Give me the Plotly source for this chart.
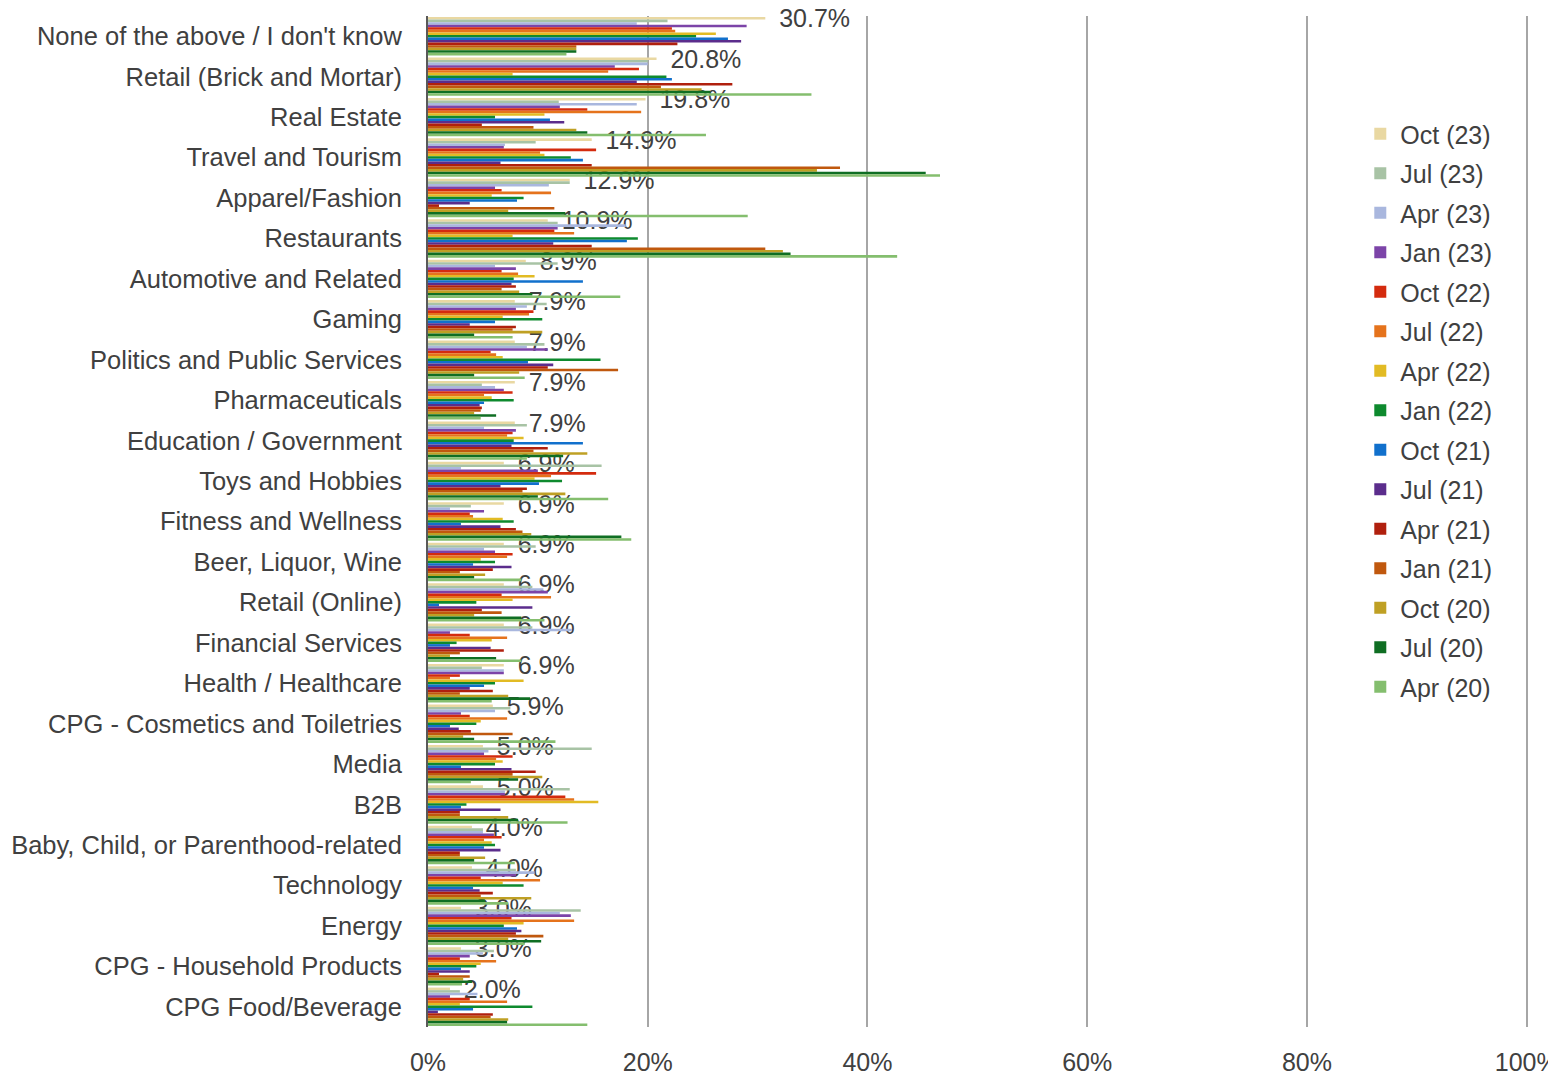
import plotly.graph_objects as go

# Industry categories, top to bottom
categories = [
    "None of the above / I don't know",
    "Retail (Brick and Mortar)",
    "Real Estate",
    "Travel and Tourism",
    "Apparel/Fashion",
    "Restaurants",
    "Automotive and Related",
    "Gaming",
    "Politics and Public Services",
    "Pharmaceuticals",
    "Education / Government",
    "Toys and Hobbies",
    "Fitness and Wellness",
    "Beer, Liquor, Wine",
    "Retail (Online)",
    "Financial Services",
    "Health / Healthcare",
    "CPG - Cosmetics and Toiletries",
    "Media",
    "B2B",
    "Baby, Child, or Parenthood-related",
    "Technology",
    "Energy",
    "CPG - Household Products",
    "CPG Food/Beverage",
]

# Survey waves (percent of respondents), one list per wave, in category order
oct_23 = [30.7, 20.8, 19.8, 14.9, 12.9, 10.9, 8.9, 7.9, 7.9, 7.9, 7.9, 6.9, 6.9,
          6.9, 6.9, 6.9, 6.9, 5.9, 5.0, 5.0, 4.0, 4.0, 3.0, 3.0, 2.0]
jul_23 = [21.8, 20.0, 11.9, 9.8, 12.9, 11.8, 11.8, 10.8, 10.6, 4.9, 9.0, 15.8, 3.9,
          9.8, 9.5, 9.5, 4.9, 7.5, 14.9, 12.9, 5.0, 8.0, 13.9, 6.0, 2.9]
apr_23 = [19.0, 20.0, 19.0, 7.0, 11.0, 18.0, 6.1, 9.0, 9.0, 6.1, 5.1, 3.0, 2.0,
          5.1, 10.5, 13.1, 6.9, 6.1, 5.5, 7.0, 5.0, 9.7, 12.0, 5.0, 4.5]
jan_23 = [29.0, 17.0, 12.0, 6.9, 6.1, 11.8, 8.0, 8.0, 10.9, 6.9, 8.0, 10.0, 5.1,
          6.1, 10.9, 2.0, 6.9, 3.0, 5.1, 7.0, 6.0, 8.0, 13.0, 3.8, 2.0]
oct_22 = [22.2, 19.2, 14.5, 15.3, 6.7, 11.5, 6.7, 9.6, 5.7, 7.7, 7.7, 15.3, 3.8,
          7.7, 6.7, 3.8, 2.9, 3.8, 7.7, 12.5, 6.7, 4.8, 7.6, 2.9, 3.8]
jul_22 = [22.5, 16.4, 19.4, 10.2, 11.2, 13.3, 8.2, 9.2, 6.2, 5.1, 7.2, 11.2, 4.1,
          7.2, 11.2, 7.2, 2.0, 7.2, 6.2, 13.3, 5.1, 10.2, 13.3, 6.2, 7.2]
apr_22 = [26.2, 7.7, 10.6, 10.6, 5.8, 7.7, 9.7, 6.8, 6.8, 5.8, 8.7, 9.7, 6.8,
          4.8, 7.7, 5.8, 8.7, 4.8, 6.8, 15.5, 5.8, 6.8, 8.7, 4.8, 2.9]
jan_22 = [24.4, 21.7, 6.1, 13.0, 8.7, 19.1, 7.8, 10.4, 15.7, 7.8, 7.8, 12.2, 7.8,
          6.1, 4.4, 2.6, 6.1, 4.4, 6.1, 3.5, 6.1, 8.7, 6.9, 4.4, 9.5]
oct_21 = [27.3, 22.2, 11.1, 14.1, 8.1, 18.1, 14.1, 6.1, 9.1, 5.1, 14.1, 10.1, 3.0,
          4.1, 1.0, 2.0, 5.1, 2.0, 3.0, 3.0, 5.1, 4.1, 8.1, 3.0, 4.1]
jul_21 = [28.5, 19.0, 12.4, 6.6, 3.8, 11.4, 7.6, 3.8, 11.4, 4.7, 7.6, 6.6, 6.6,
          7.6, 9.5, 5.7, 3.8, 2.8, 7.6, 6.6, 6.6, 4.7, 8.5, 3.8, 0.9]
apr_21 = [22.7, 27.7, 4.9, 14.9, 1.0, 14.9, 8.0, 8.0, 10.9, 4.9, 10.9, 9.0, 8.0,
          5.9, 4.9, 6.9, 5.9, 3.9, 9.8, 2.9, 2.9, 5.9, 8.0, 1.0, 5.9]
jan_21 = [13.5, 21.2, 9.6, 37.5, 11.5, 30.7, 6.7, 7.7, 17.3, 4.8, 9.6, 8.6, 8.6,
          2.9, 6.7, 2.9, 2.9, 7.7, 7.7, 2.9, 2.9, 4.8, 10.5, 3.8, 5.7]
oct_20 = [13.5, 24.9, 13.5, 35.4, 7.3, 32.3, 8.3, 10.4, 8.3, 4.2, 14.5, 12.5, 9.4,
          5.2, 4.2, 2.0, 7.3, 3.2, 10.4, 7.3, 5.2, 9.4, 7.3, 3.2, 7.3]
jul_20 = [13.5, 25.7, 14.5, 45.3, 12.5, 33.0, 9.5, 4.2, 4.2, 6.2, 12.3, 10.0, 17.6,
          4.2, 8.5, 6.2, 9.3, 4.2, 8.2, 8.2, 4.2, 5.2, 10.3, 4.0, 7.2]
apr_20 = [12.6, 34.9, 25.3, 46.6, 29.1, 42.7, 17.5, 7.7, 8.8, 4.8, 9.0, 16.4, 18.5,
          8.5, 10.6, 8.5, 5.8, 11.6, 3.9, 12.7, 7.9, 7.3, 8.8, 3.1, 14.5]

wave_names = ["Oct (23)", "Jul (23)", "Apr (23)", "Jan (23)", "Oct (22)",
              "Jul (22)", "Apr (22)", "Jan (22)", "Oct (21)", "Jul (21)",
              "Apr (21)", "Jan (21)", "Oct (20)", "Jul (20)", "Apr (20)"]
wave_values = [oct_23, jul_23, apr_23, jan_23, oct_22, jul_22, apr_22, jan_22,
               oct_21, jul_21, apr_21, jan_21, oct_20, jul_20, apr_20]
wave_colors = ["#E9D8A2", "#A8C3A5", "#A9B7DE", "#7C44A8", "#D42B0E",
               "#E5731C", "#E2BB24", "#0E8A2E", "#1170CC", "#5B2D8C",
               "#B0200E", "#C0580E", "#BFA024", "#0F6E23", "#84BE6E"]

x_ticks = [0, 20, 40, 60, 80, 100]
x_tick_text = ["0%", "20%", "40%", "60%", "80%", "100%"]

FONT = "Liberation Sans, Arial, sans-serif"
TEXT_COLOR = "#404040"

fig = go.Figure()
for i, (name, vals, color) in enumerate(zip(wave_names, wave_values, wave_colors)):
    bar = dict(
        x=vals,
        y=categories,
        name=name,
        orientation="h",
        legendgroup=name,
        marker=dict(color=color, line=dict(width=0)),
        hoverinfo="x+y+name",
    )
    if i == 0:
        # Latest wave carries the value labels
        bar.update(
            text=[f"  {v:.1f}%" for v in vals],
            textposition="outside",
            constraintext="none",
            cliponaxis=False,
            textfont=dict(family=FONT, size=25, color=TEXT_COLOR),
        )
    fig.add_trace(go.Bar(**bar))

fig.update_layout(
    width=1548,
    height=1078,
    barmode="group",
    bargap=0.05,
    bargroupgap=0,
    plot_bgcolor="white",
    paper_bgcolor="white",
    font=dict(family=FONT, size=25, color=TEXT_COLOR),
    margin=dict(l=428, r=18, t=16, b=51, autoexpand=False),
    legend=dict(
        x=0.846,
        y=0.906,
        xanchor="left",
        yanchor="top",
        traceorder="grouped",
        tracegroupgap=4,
        font=dict(family=FONT, size=25, color=TEXT_COLOR),
        bgcolor="rgba(0,0,0,0)",
        itemwidth=30,
    ),
    xaxis=dict(
        range=[0, 100.3],
        automargin=False,
        tickvals=x_ticks,
        ticktext=x_tick_text,
        showgrid=True,
        gridcolor="#A6A6A6",
        gridwidth=1.5,
        zeroline=False,
        showline=False,
        ticks="",
        ticklabelstandoff=18,
        ticklabeloverflow="allow",
        tickfont=dict(family=FONT, size=25, color=TEXT_COLOR),
    ),
    yaxis=dict(
        autorange="reversed",
        automargin=False,
        showline=True,
        linecolor="#595959",
        linewidth=2,
        ticks="",
        showgrid=False,
        ticklabelstandoff=19,
        tickfont=dict(family=FONT, size=25.5, color=TEXT_COLOR),
    ),
)

fig.write_html("out.html")
